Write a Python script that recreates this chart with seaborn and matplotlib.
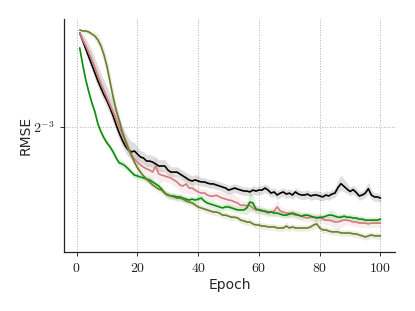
import numpy as np
import pandas as pd
import matplotlib
matplotlib.use("Agg")
import matplotlib.pyplot as plt
import matplotlib.ticker as mticker
import seaborn as sns

epochs = list(range(1, 101))

black = [0.1930, 0.1860, 0.1792, 0.1727, 0.1665, 0.1605, 0.1546, 0.1497, 0.1449, 0.1410,
         0.1365, 0.1315, 0.1262, 0.1216, 0.1177, 0.1145, 0.1124, 0.1114, 0.1119, 0.1103,
         0.1088, 0.1083, 0.1068, 0.1068, 0.1063, 0.1054, 0.1044, 0.1044, 0.1044, 0.1025,
         0.1015, 0.1015, 0.1015, 0.1006, 0.0997, 0.0988, 0.0979, 0.0974, 0.0979, 0.0974,
         0.0970, 0.0970, 0.0965, 0.0961, 0.0961, 0.0956, 0.0952, 0.0947, 0.0943, 0.0934,
         0.0938, 0.0943, 0.0938, 0.0934, 0.0930, 0.0930, 0.0926, 0.0934, 0.0930, 0.0934,
         0.0934, 0.0943, 0.0934, 0.0921, 0.0926, 0.0913, 0.0921, 0.0926, 0.0917, 0.0921,
         0.0913, 0.0926, 0.0917, 0.0913, 0.0913, 0.0917, 0.0909, 0.0913, 0.0913, 0.0909,
         0.0905, 0.0913, 0.0909, 0.0917, 0.0921, 0.0945, 0.0962, 0.0950, 0.0938, 0.0928,
         0.0936, 0.0924, 0.0909, 0.0913, 0.0921, 0.0940, 0.0913, 0.0905, 0.0905, 0.0900]

pink = [0.1930, 0.1869, 0.1818, 0.1760, 0.1704, 0.1642, 0.1583, 0.1525, 0.1476, 0.1429,
        0.1384, 0.1340, 0.1297, 0.1250, 0.1211, 0.1166, 0.1129, 0.1098, 0.1078, 0.1063,
        0.1049, 0.1039, 0.1030, 0.1025, 0.1015, 0.1044, 0.1006, 0.1001, 0.0997, 0.0992,
        0.0988, 0.0979, 0.0970, 0.0956, 0.0952, 0.0961, 0.0943, 0.0943, 0.0934, 0.0926,
        0.0921, 0.0922, 0.0913, 0.0908, 0.0909, 0.0912, 0.0905, 0.0900, 0.0896, 0.0892,
        0.0890, 0.0884, 0.0880, 0.0870, 0.0872, 0.0868, 0.0870, 0.0860, 0.0852, 0.0852,
        0.0852, 0.0844, 0.0840, 0.0844, 0.0848, 0.0864, 0.0848, 0.0844, 0.0840, 0.0840,
        0.0836, 0.0832, 0.0832, 0.0828, 0.0824, 0.0821, 0.0824, 0.0824, 0.0824, 0.0821,
        0.0817, 0.0813, 0.0813, 0.0810, 0.0806, 0.0806, 0.0810, 0.0813, 0.0813, 0.0810,
        0.0806, 0.0806, 0.0802, 0.0802, 0.0802, 0.0799, 0.0802, 0.0802, 0.0802, 0.0802]

green = [0.1801, 0.1665, 0.1553, 0.1469, 0.1397, 0.1340, 0.1267, 0.1222, 0.1188, 0.1161,
         0.1140, 0.1114, 0.1083, 0.1059, 0.1054, 0.1044, 0.1030, 0.1015, 0.1001, 0.0997,
         0.0992, 0.0988, 0.0983, 0.0979, 0.0970, 0.0961, 0.0952, 0.0938, 0.0921, 0.0913,
         0.0909, 0.0909, 0.0905, 0.0905, 0.0900, 0.0896, 0.0892, 0.0896, 0.0892, 0.0896,
         0.0900, 0.0888, 0.0880, 0.0876, 0.0872, 0.0868, 0.0864, 0.0860, 0.0864, 0.0864,
         0.0860, 0.0856, 0.0852, 0.0852, 0.0852, 0.0860, 0.0884, 0.0880, 0.0856, 0.0852,
         0.0848, 0.0848, 0.0844, 0.0844, 0.0840, 0.0840, 0.0836, 0.0832, 0.0832, 0.0836,
         0.0840, 0.0836, 0.0832, 0.0828, 0.0832, 0.0832, 0.0828, 0.0824, 0.0821, 0.0824,
         0.0824, 0.0828, 0.0832, 0.0832, 0.0828, 0.0824, 0.0824, 0.0828, 0.0824, 0.0824,
         0.0821, 0.0821, 0.0817, 0.0817, 0.0813, 0.0813, 0.0813, 0.0813, 0.0813, 0.0817]

olive = [0.1957, 0.1948, 0.1948, 0.1939, 0.1921, 0.1903, 0.1869, 0.1818, 0.1743, 0.1650,
         0.1539, 0.1436, 0.1352, 0.1291, 0.1222, 0.1177, 0.1134, 0.1098, 0.1063, 0.1035,
         0.1015, 0.0997, 0.0983, 0.0970, 0.0956, 0.0947, 0.0938, 0.0934, 0.0921, 0.0913,
         0.0909, 0.0905, 0.0900, 0.0900, 0.0896, 0.0888, 0.0884, 0.0880, 0.0872, 0.0864,
         0.0860, 0.0856, 0.0852, 0.0848, 0.0844, 0.0844, 0.0840, 0.0832, 0.0832, 0.0828,
         0.0824, 0.0824, 0.0821, 0.0813, 0.0810, 0.0806, 0.0806, 0.0799, 0.0795, 0.0795,
         0.0791, 0.0791, 0.0788, 0.0788, 0.0788, 0.0784, 0.0784, 0.0784, 0.0791, 0.0784,
         0.0788, 0.0784, 0.0784, 0.0784, 0.0784, 0.0784, 0.0788, 0.0795, 0.0799, 0.0784,
         0.0777, 0.0777, 0.0773, 0.0770, 0.0770, 0.0770, 0.0766, 0.0766, 0.0766, 0.0766,
         0.0763, 0.0763, 0.0759, 0.0756, 0.0752, 0.0756, 0.0759, 0.0756, 0.0756, 0.0756]

# relative spread of the shaded bands (fraction of the mean)
black_hi = [0.01, 0.03, 0.05, 0.06, 0.07, 0.07, 0.07, 0.07, 0.07, 0.07,
            0.07, 0.07, 0.07, 0.07, 0.07, 0.065, 0.06, 0.05, 0.04, 0.035,
            0.03, 0.03, 0.03, 0.03, 0.03, 0.03, 0.03, 0.03, 0.03, 0.03,
            0.025, 0.025, 0.025, 0.025, 0.025, 0.025, 0.025, 0.025, 0.025, 0.025,
            0.02, 0.02, 0.02, 0.02, 0.02, 0.02, 0.02, 0.02, 0.02, 0.02,
            0.02, 0.02, 0.02, 0.02, 0.02, 0.02, 0.02, 0.02, 0.02, 0.02,
            0.02, 0.02, 0.02, 0.02, 0.02, 0.02, 0.02, 0.02, 0.02, 0.02,
            0.02, 0.02, 0.02, 0.02, 0.02, 0.02, 0.02, 0.02, 0.02, 0.02,
            0.02, 0.02, 0.02, 0.02, 0.025, 0.035, 0.04, 0.035, 0.03, 0.02,
            0.02, 0.02, 0.02, 0.02, 0.025, 0.03, 0.025, 0.02, 0.02, 0.02]
black_lo = [0.005, 0.01, 0.015, 0.02, 0.025, 0.03, 0.03, 0.03, 0.03, 0.03,
            0.03, 0.03, 0.03, 0.03, 0.03, 0.03, 0.03, 0.03, 0.03, 0.03,
            0.025, 0.025, 0.025, 0.025, 0.025, 0.025, 0.025, 0.025, 0.025, 0.025,
            0.02, 0.02, 0.02, 0.02, 0.02, 0.02, 0.02, 0.02, 0.02, 0.02,
            0.02, 0.02, 0.02, 0.02, 0.02, 0.02, 0.02, 0.02, 0.02, 0.02,
            0.02, 0.02, 0.02, 0.02, 0.02, 0.02, 0.02, 0.02, 0.02, 0.02,
            0.02, 0.02, 0.02, 0.02, 0.02, 0.02, 0.02, 0.02, 0.02, 0.02,
            0.02, 0.02, 0.02, 0.02, 0.02, 0.02, 0.02, 0.02, 0.02, 0.02,
            0.02, 0.02, 0.02, 0.02, 0.02, 0.025, 0.03, 0.025, 0.02, 0.02,
            0.02, 0.02, 0.02, 0.02, 0.02, 0.025, 0.02, 0.02, 0.02, 0.02]
pink_sd = [0.005, 0.02, 0.025, 0.025, 0.025, 0.025, 0.025, 0.025, 0.025, 0.025,
           0.025, 0.025, 0.025, 0.025, 0.025, 0.025, 0.025, 0.025, 0.025, 0.025,
           0.025, 0.025, 0.03, 0.035, 0.04, 0.05, 0.04, 0.03, 0.025, 0.025,
           0.025, 0.025, 0.025, 0.03, 0.035, 0.04, 0.03, 0.025, 0.02, 0.02,
           0.02, 0.02, 0.02, 0.02, 0.02, 0.02, 0.025, 0.03, 0.035, 0.035,
           0.035, 0.035, 0.03, 0.025, 0.02, 0.02, 0.02, 0.02, 0.02, 0.02,
           0.02, 0.02, 0.02, 0.02, 0.025, 0.035, 0.025, 0.02, 0.02, 0.02,
           0.02, 0.02, 0.02, 0.02, 0.02, 0.02, 0.02, 0.02, 0.02, 0.02,
           0.02, 0.02, 0.02, 0.025, 0.03, 0.035, 0.03, 0.025, 0.02, 0.02,
           0.02, 0.02, 0.02, 0.02, 0.02, 0.02, 0.02, 0.02, 0.02, 0.02]
green_sd = [0.005, 0.012, 0.015, 0.015, 0.015, 0.015, 0.015, 0.015, 0.015, 0.015,
            0.015, 0.015, 0.015, 0.015, 0.015, 0.015, 0.015, 0.015, 0.015, 0.015,
            0.015, 0.015, 0.015, 0.015, 0.015, 0.015, 0.015, 0.015, 0.015, 0.015,
            0.015, 0.015, 0.015, 0.015, 0.015, 0.015, 0.015, 0.015, 0.015, 0.015,
            0.015, 0.015, 0.015, 0.015, 0.015, 0.015, 0.015, 0.015, 0.015, 0.015,
            0.015, 0.015, 0.015, 0.015, 0.02, 0.03, 0.045, 0.035, 0.02, 0.015,
            0.015, 0.015, 0.015, 0.015, 0.015, 0.015, 0.015, 0.015, 0.015, 0.015,
            0.015, 0.015, 0.015, 0.015, 0.015, 0.015, 0.015, 0.015, 0.015, 0.015,
            0.015, 0.015, 0.02, 0.025, 0.02, 0.015, 0.015, 0.015, 0.015, 0.015,
            0.015, 0.015, 0.015, 0.015, 0.015, 0.015, 0.015, 0.015, 0.015, 0.015]
olive_sd = [0.005, 0.008, 0.01, 0.012, 0.015, 0.02, 0.025, 0.03, 0.035, 0.04,
            0.04, 0.035, 0.03, 0.025, 0.02, 0.02, 0.02, 0.02, 0.02, 0.02,
            0.015, 0.015, 0.015, 0.015, 0.015, 0.015, 0.015, 0.015, 0.015, 0.015,
            0.015, 0.015, 0.015, 0.015, 0.015, 0.015, 0.015, 0.015, 0.015, 0.015,
            0.015, 0.015, 0.015, 0.015, 0.015, 0.015, 0.015, 0.015, 0.015, 0.015,
            0.015, 0.015, 0.015, 0.015, 0.015, 0.015, 0.015, 0.015, 0.015, 0.015,
            0.015, 0.015, 0.015, 0.015, 0.015, 0.015, 0.015, 0.015, 0.02, 0.015,
            0.015, 0.015, 0.015, 0.015, 0.015, 0.015, 0.015, 0.02, 0.02, 0.015,
            0.015, 0.015, 0.015, 0.015, 0.015, 0.015, 0.015, 0.015, 0.015, 0.015,
            0.015, 0.015, 0.015, 0.015, 0.015, 0.015, 0.015, 0.015, 0.015, 0.015]

x_ticks = [0, 20, 40, 60, 80, 100]

sns.set_style("ticks")
plt.rcParams["font.family"] = ["DejaVu Sans"]
plt.rcParams["mathtext.fontset"] = "cm"

fig = plt.figure(figsize=(4.15, 3.11), dpi=100)
ax = fig.add_axes([0.154, 0.19, 0.798, 0.749])

series = [
    ("black", black, black_hi, black_lo, "#000000"),
    ("pink", pink, pink_sd, pink_sd, "#d27c7c"),
    ("green", green, green_sd, green_sd, "#0c8c0c"),
    ("olive", olive, olive_sd, olive_sd, "#6b7d2a"),
]

for name, vals, hi, lo, col in series:
    v = np.array(vals)
    ax.fill_between(epochs, v * (1 - np.array(lo)), v * (1 + np.array(hi)),
                    color=col, alpha=0.13, linewidth=0)

for name, vals, hi, lo, col in series:
    df = pd.DataFrame({"Epoch": epochs, "RMSE": vals})
    sns.lineplot(data=df, x="Epoch", y="RMSE", ax=ax, color=col, linewidth=1.2,
                 errorbar=None)

ax.set_yscale("log", base=2)
ax.set_ylim(0.0702, 0.2059)
ax.set_xlim(-4.2, 104.8)
ax.yaxis.set_major_locator(mticker.FixedLocator([0.125]))
ax.yaxis.set_minor_locator(mticker.NullLocator())
ax.yaxis.set_major_formatter(mticker.FixedFormatter([r"$2^{-3}$"]))
ax.set_xticks(x_ticks)
ax.set_xticklabels([f"${t}$" for t in x_ticks])
ax.tick_params(axis="both", labelsize=10, length=3, width=0.7, colors="#333333",
               labelcolor="#222222")

ax.grid(True, which="major", linestyle=":", linewidth=0.7, color="#b0b0b0")
ax.set_axisbelow(True)
sns.despine(ax=ax)
for s in ["left", "bottom"]:
    ax.spines[s].set_color("#222222")
    ax.spines[s].set_linewidth(0.9)

ax.set_xlabel("Epoch", fontsize=10, labelpad=2)
ax.set_ylabel("RMSE", fontsize=10, labelpad=0.5)

fig.savefig("out.png", dpi=100)
